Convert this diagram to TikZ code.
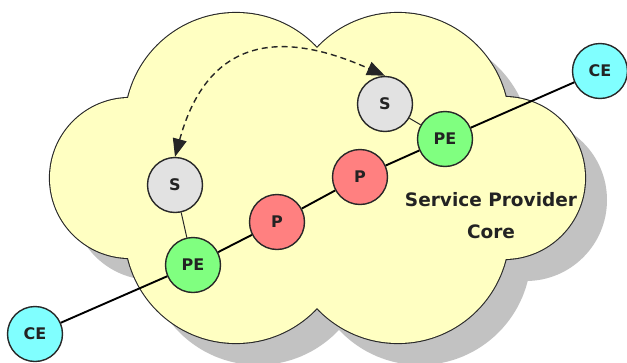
\documentclass[tikz,border=0pt]{standalone}
\usepackage{fontspec}
\setmainfont{DejaVu Sans}
\usetikzlibrary{arrows.meta}
\definecolor{cloudfill}{RGB}{255,255,194}
\definecolor{shadowc}{RGB}{194,194,194}
\definecolor{edgec}{RGB}{40,40,40}
\definecolor{sfill}{RGB}{226,226,226}
\definecolor{pefill}{RGB}{128,255,128}
\definecolor{pfill}{RGB}{255,128,128}
\definecolor{cefill}{RGB}{128,255,255}
\definecolor{txtc}{RGB}{35,35,35}
\tikzset{
  dev/.style={circle, draw=edgec, line width=1.4pt, minimum size=55pt, inner sep=0pt,
    font=\bfseries\fontsize{16}{16}\selectfont, text=txtc},
  sdev/.style={dev, fill=sfill},
  pedev/.style={dev, fill=pefill},
  pdev/.style={dev, fill=pfill},
  cedev/.style={dev, fill=cefill},
  link/.style={black, line width=1.9pt},
  thinlink/.style={edgec, line width=1pt},
  dasharrow/.style={black!85, line width=1.4pt, dash pattern=on 6pt off 4pt,
    arrows={Triangle[length=18pt,width=14pt]-Triangle[length=18pt,width=14pt]}},
  cloudline/.style={edgec, line width=2.2pt},
  labeltext/.style={font=\bfseries\fontsize{18.5}{32}\selectfont, text=txtc, align=center}
}
\begin{document}
\begin{tikzpicture}[x=1pt,y=-1pt]
\useasboundingbox (0,0) rectangle (627,362);
% shadow
\foreach \cx/\cy/\r in {130/178/80, 504/178/81, 236/124/111, 398/124/111, 236/232/111, 398/232/111}{
  \fill[shadowc] (\cx+22,\cy+22) circle[radius=\r];
}
% cloud outline and fill
\foreach \cx/\cy/\r in {130/178/80, 504/178/81, 236/124/111, 398/124/111, 236/232/111, 398/232/111}{
  \draw[cloudline] (\cx,\cy) circle[radius=\r];
}
\foreach \cx/\cy/\r in {130/178/80, 504/178/81, 236/124/111, 398/124/111, 236/232/111, 398/232/111}{
  \fill[cloudfill] (\cx,\cy) circle[radius=\r];
}
% nodes
\node[cedev] (ce1) at (35,334) {CE};
\node[pedev] (pe1) at (193,265) {PE};
\node[sdev]  (s1)  at (175,185) {S};
\node[pdev]  (p1)  at (277,222) {P};
\node[pdev]  (p2)  at (360,177) {P};
\node[pedev] (pe2) at (445,139) {PE};
\node[sdev]  (s2)  at (385,104) {S};
\node[cedev] (ce2) at (600,71) {CE};
% links
\draw[link] (ce1) -- (pe1);
\draw[link] (pe1) -- (p1);
\draw[link] (p1) -- (p2);
\draw[link] (p2) -- (pe2);
\draw[link] (pe2) -- (ce2);
\draw[thinlink] (s1) -- (pe1);
\draw[thinlink] (s2) -- (pe2);
% dashed relation
\draw[dasharrow] (s1.north) .. controls (213,18) and (307,41) .. (s2.north);
% label
\node[labeltext] (lbl) at (491,216) {Service Provider\\Core};
\end{tikzpicture}
\end{document}
